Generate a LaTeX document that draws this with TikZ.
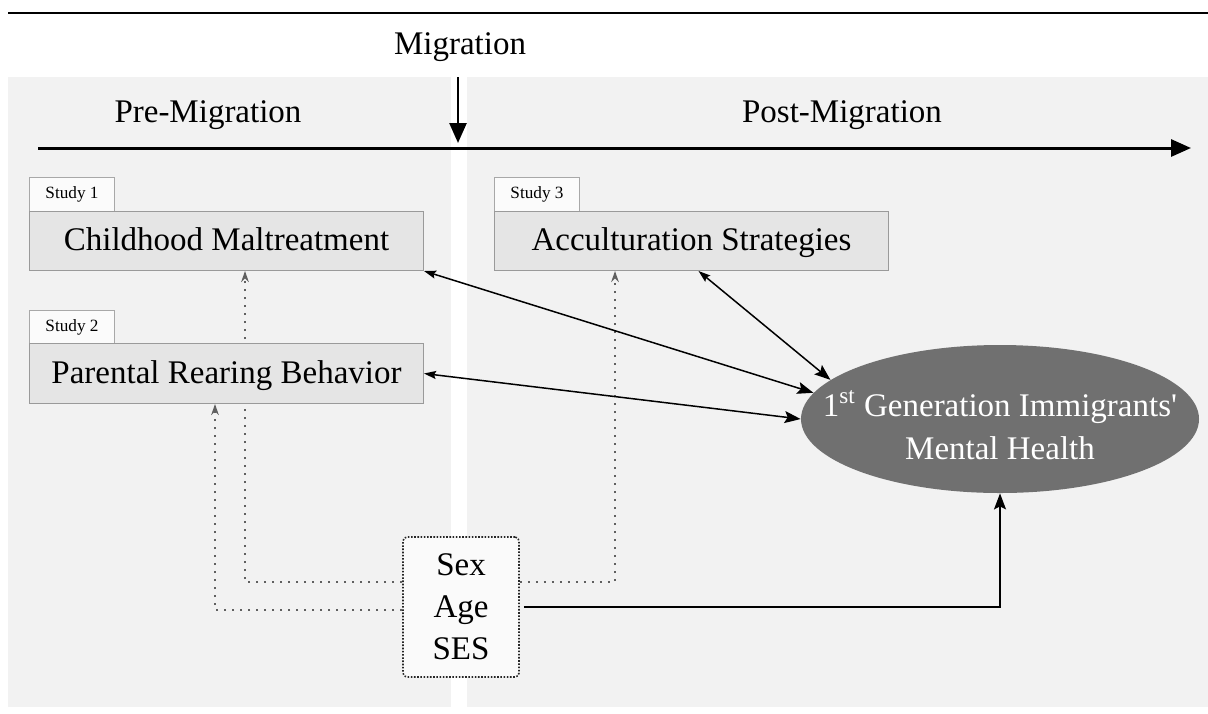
\documentclass[tikz,border=0pt]{standalone}
\usepackage{fontspec}
\setmainfont{Liberation Serif}
\usetikzlibrary{arrows.meta,shapes.geometric,calc}
\definecolor{bgc}{HTML}{F2F2F2}
\definecolor{boxfill}{HTML}{E5E5E5}
\definecolor{boxline}{HTML}{9A9A9A}
\definecolor{tabfill}{HTML}{FBFBFB}
\definecolor{tabline}{HTML}{A8A8A8}
\definecolor{ellc}{HTML}{707070}
\definecolor{dotc}{HTML}{606060}
\definecolor{sesfill}{HTML}{FAFAFA}
\pgfdeclarelayer{bg}
\pgfdeclarelayer{lines}
\pgfsetlayers{bg,lines,main}
\begin{document}
\begin{tikzpicture}[x=0.5pt,y=-0.5pt,
  big/.style={font=\fontsize{16.5}{21}\selectfont},
  tabbox/.style={draw=tabline, fill=tabfill, line width=0.5pt, minimum width=42.5pt, minimum height=17pt, inner sep=0pt, font=\fontsize{8.6}{10}\selectfont, anchor=north west},
  studybox/.style={draw=boxline, fill=boxfill, line width=0.5pt, minimum width=197pt, minimum height=29.5pt, inner sep=0pt, text height=12pt, text depth=2.5pt, big, anchor=north west},
  dotconn/.style={draw=dotc, line width=1pt, dash pattern=on 1pt off 3pt, arrows={-{Stealth[length=5.5pt,width=3.8pt]}}},
  dbl/.style={line width=0.75pt, arrows={{Stealth[length=6pt,width=4pt,inset=1pt]}-{Stealth[length=8pt,width=6pt,inset=1.5pt]}}},
  solidconn/.style={line width=0.8pt, arrows={-{Stealth[length=8pt,width=6pt,inset=1.5pt]}}},
  bigarrow/.style={line width=1.3pt, arrows={-{Triangle[length=10pt,width=8.5pt]}}}
]
\useasboundingbox (0,0) rectangle (1208,713);
\begin{pgfonlayer}{bg}
\fill[white] (0,0) rectangle (1208,713);
\fill[bgc] (8,77) rectangle (451,707);
\fill[bgc] (467,77) rectangle (1208,707);
\end{pgfonlayer}
% top rule
\coordinate (r0) at (8,13);
\coordinate (r1) at (1208,13);
\draw[line width=1.1pt] (r0) -- (r1);
% migration
\node[big] (mig) at (460,47) {Migration};
\coordinate (m0) at (458,77);
\coordinate (m1) at (458,143);
\draw[bigarrow] (m0) -- (m1);
% headings
\node[big] (pre) at (208,115) {Pre-Migration};
\node[big] (post) at (842,115) {Post-Migration};
% timeline
\coordinate (t0) at (38,148);
\coordinate (t1) at (1191,148);
\draw[bigarrow, line width=1.5pt] (t0) -- (t1);
% studies
\node[tabbox] (s1) at (29,177) {Study 1};
\node[studybox] (cm) at (29,211) {Childhood Maltreatment};
\node[tabbox] (s2) at (29,310) {Study 2};
\node[studybox, minimum height=30pt] (pr) at (29,343) {Parental Rearing Behavior};
\node[tabbox] (s3) at (494,177) {Study 3};
\node[studybox] (ac) at (494,211) {Acculturation Strategies};
% outcome
\node[ellipse, fill=ellc, minimum width=199pt, minimum height=74pt, inner sep=0pt] (mh) at (1000,419) {};
\node[text=white, align=center, inner sep=0pt, font=\fontsize{16.5}{21.5}\selectfont] (mhlabel) at (1000,425) {1\textsuperscript{st} Generation Immigrants\textquotesingle\\Mental Health};
% covariates
\node[draw=black!85, fill=sesfill, line width=0.8pt, dash pattern=on 0.8pt off 0.8pt, rounded corners=2pt, minimum width=58pt, minimum height=70pt, align=center, inner sep=0pt, font=\fontsize{16.5}{21}\selectfont] (ses) at (461,607) {Sex\\Age\\SES};
% dotted connectors
\coordinate (yA) at (0,582);
\coordinate (yB) at (0,610);
\coordinate (xA) at (245,0);
\coordinate (xB) at (215,0);
\coordinate (xC) at (615,0);
\begin{pgfonlayer}{lines}
\draw[dotconn] (ses.west |- yA) -| (cm.south -| xA);
\draw[dotconn] (ses.west |- yB) -| (pr.south -| xB);
\draw[dotconn] (ses.east |- yA) -| (ac.south -| xC);
\end{pgfonlayer}
% solid connectors
\draw[solidconn] ([xshift=2pt]ses.east) -| (mh.south);
\draw[dbl] (cm.south east) -- (mh.172.9);
\draw[dbl] ([xshift=3.5pt]ac.south) -- (mh.167.9);
\draw[dbl] (pr.east) -- (mh.west);
\end{tikzpicture}
\end{document}
